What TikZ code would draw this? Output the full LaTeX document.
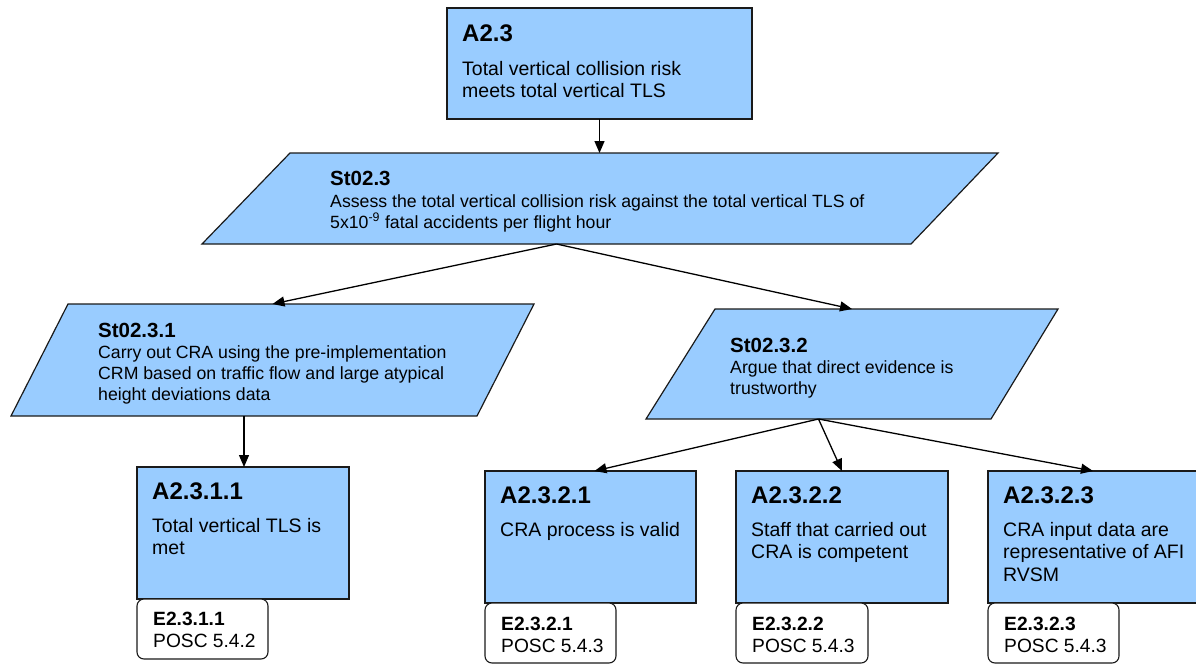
\documentclass[tikz,border=0pt]{standalone}
\usepackage{fontspec}
\setmainfont{Liberation Sans}
\usetikzlibrary{arrows.meta}
\definecolor{boxblue}{HTML}{99CCFF}
\definecolor{edgec}{HTML}{1A1A1A}
\begin{document}
\begin{tikzpicture}[x=1pt,y=-1pt,
  abox/.style={draw=edgec, fill=boxblue, line width=1.2pt, anchor=north west, inner sep=0pt, outer sep=0pt},
  ebox/.style={draw=edgec, fill=white, line width=1.1pt, rounded corners=7pt, anchor=north west, inner sep=0pt, outer sep=0pt, minimum height=60pt},
  frame/.style={anchor=north west, inner sep=0pt, outer sep=0pt},
  para/.style={draw=edgec, fill=boxblue, line width=1.2pt, line join=miter},
  atitle/.style={anchor=base west, inner sep=0pt, font=\bfseries\fontsize{24}{28}\selectfont},
  abody/.style={anchor=base west, inner sep=0pt, font=\fontsize{19.5}{22.8}\selectfont},
  stitle/.style={anchor=base west, inner sep=0pt, font=\bfseries\fontsize{20.5}{24}\selectfont},
  sbody/.style={anchor=base west, inner sep=0pt, font=\fontsize{17.7}{21}\selectfont},
  etitle/.style={anchor=base west, inner sep=0pt, font=\bfseries\fontsize{19.2}{22}\selectfont},
  ebody/.style={anchor=base west, inner sep=0pt, font=\fontsize{19.2}{22}\selectfont},
  conn/.style={draw=black, line width=1.3pt, -{Triangle[length=12pt,width=10pt]}}
]
\path[use as bounding box] (0,0) rectangle (1196,664);

% ---------- A2.3 ----------
\node[abox, minimum width=305pt, minimum height=111pt] (A23) at (447,8) {};
\node[atitle] (A23t) at ([shift={(15,33)}]A23.north west) {A2.3};
\node[abody] (A23b) at ([shift={(15,67)}]A23.north west) {\parbox[t]{285pt}{Total vertical collision risk\\meets total vertical TLS}};

% ---------- St02.3 ----------
\node[frame, minimum width=796pt, minimum height=91pt] (S23) at (202,153) {};
\draw[para] ([xshift=88pt]S23.north west) -- (S23.north east) -- ([xshift=-87pt]S23.south east) -- (S23.south west) -- cycle;
\coordinate (S23bm) at ([xshift=-43.5pt]S23.south);
\node[stitle] (S23t) at ([shift={(128,32)}]S23.north west) {St02.3};
\node[sbody] (S23b) at ([shift={(128,54)}]S23.north west) {\parbox[t]{640pt}{Assess the total vertical collision risk against the total vertical TLS of\\5x10\textsuperscript{-9} fatal accidents per flight hour}};

% ---------- St02.3.1 ----------
\node[frame, minimum width=523pt, minimum height=112pt] (S231) at (11,304) {};
\draw[para] ([xshift=57pt]S231.north west) -- (S231.north east) -- ([xshift=-57pt]S231.south east) -- (S231.south west) -- cycle;
\coordinate (S231bm) at ([xshift=-28.5pt]S231.south);
\node[stitle] (S231t) at ([shift={(87,33)}]S231.north west) {St02.3.1};
\node[sbody] (S231b) at ([shift={(87,54)}]S231.north west) {\parbox[t]{420pt}{Carry out CRA using the pre-implementation\\CRM based on traffic flow and large atypical\\height deviations data}};

% ---------- St02.3.2 ----------
\node[frame, minimum width=412pt, minimum height=110pt] (S232) at (646,309) {};
\draw[para] ([xshift=69pt]S232.north west) -- (S232.north east) -- ([xshift=-67pt]S232.south east) -- (S232.south west) -- cycle;
\coordinate (S232bm) at ([xshift=-33.5pt]S232.south);
\node[stitle] (S232t) at ([shift={(84,43)}]S232.north west) {St02.3.2};
\node[sbody] (S232b) at ([shift={(84,64)}]S232.north west) {\parbox[t]{300pt}{Argue that direct evidence is\\trustworthy}};

% ---------- A2.3.1.1 ----------
\node[abox, minimum width=212pt, minimum height=132pt] (A2311) at (137,467) {};
\node[atitle] (A2311t) at ([shift={(15,32)}]A2311.north west) {A2.3.1.1};
\node[abody] (A2311b) at ([shift={(15,65)}]A2311.north west) {\parbox[t]{195pt}{Total vertical TLS is\\met}};
\node[ebox, minimum width=131pt] (E2311) at (137,599) {};
\node[etitle] (E2311t) at ([shift={(16,26)}]E2311.north west) {E2.3.1.1};
\node[ebody] (E2311b) at ([shift={(16,48)}]E2311.north west) {POSC 5.4.2};

% ---------- A2.3.2.1 ----------
\node[abox, minimum width=211pt, minimum height=132pt] (A2321) at (485,471) {};
\node[atitle] (A2321t) at ([shift={(15,32)}]A2321.north west) {A2.3.2.1};
\node[abody] (A2321b) at ([shift={(15,65)}]A2321.north west) {\parbox[t]{195pt}{CRA process is valid}};
\node[ebox, minimum width=131pt] (E2321) at (485,603) {};
\node[etitle] (E2321t) at ([shift={(16,27)}]E2321.north west) {E2.3.2.1};
\node[ebody] (E2321b) at ([shift={(16,49)}]E2321.north west) {POSC 5.4.3};

% ---------- A2.3.2.2 ----------
\node[abox, minimum width=212pt, minimum height=132pt] (A2322) at (736,471) {};
\node[atitle] (A2322t) at ([shift={(15,32)}]A2322.north west) {A2.3.2.2};
\node[abody] (A2322b) at ([shift={(15,65)}]A2322.north west) {\parbox[t]{195pt}{Staff that carried out\\CRA is competent}};
\node[ebox, minimum width=132pt] (E2322) at (736,603) {};
\node[etitle] (E2322t) at ([shift={(16,27)}]E2322.north west) {E2.3.2.2};
\node[ebody] (E2322b) at ([shift={(16,49)}]E2322.north west) {POSC 5.4.3};

% ---------- A2.3.2.3 ----------
\node[abox, minimum width=210pt, minimum height=132pt] (A2323) at (988,471) {};
\node[atitle] (A2323t) at ([shift={(15,32)}]A2323.north west) {A2.3.2.3};
\node[abody] (A2323b) at ([shift={(15,65)}]A2323.north west) {\parbox[t]{195pt}{CRA input data are\\representative of AFI\\RVSM}};
\node[ebox, minimum width=131pt] (E2323) at (988,603) {};
\node[etitle] (E2323t) at ([shift={(16,27)}]E2323.north west) {E2.3.2.3};
\node[ebody] (E2323b) at ([shift={(16,49)}]E2323.north west) {POSC 5.4.3};

% ---------- connectors ----------
\draw[conn] (A23.south) -- (A23.south |- S23.north);
\draw[conn] (S23bm) -- (S231.north);
\draw[conn] (S23bm) -- (S232.north);
\draw[conn] (S231bm) -- (S231bm |- A2311.north);
\draw[conn] (S232bm) -- ([xshift=4pt]A2321.north);
\draw[conn] (S232bm) -- (A2322.north);
\draw[conn] (S232bm) -- (A2323.north);
\end{tikzpicture}
\end{document}
